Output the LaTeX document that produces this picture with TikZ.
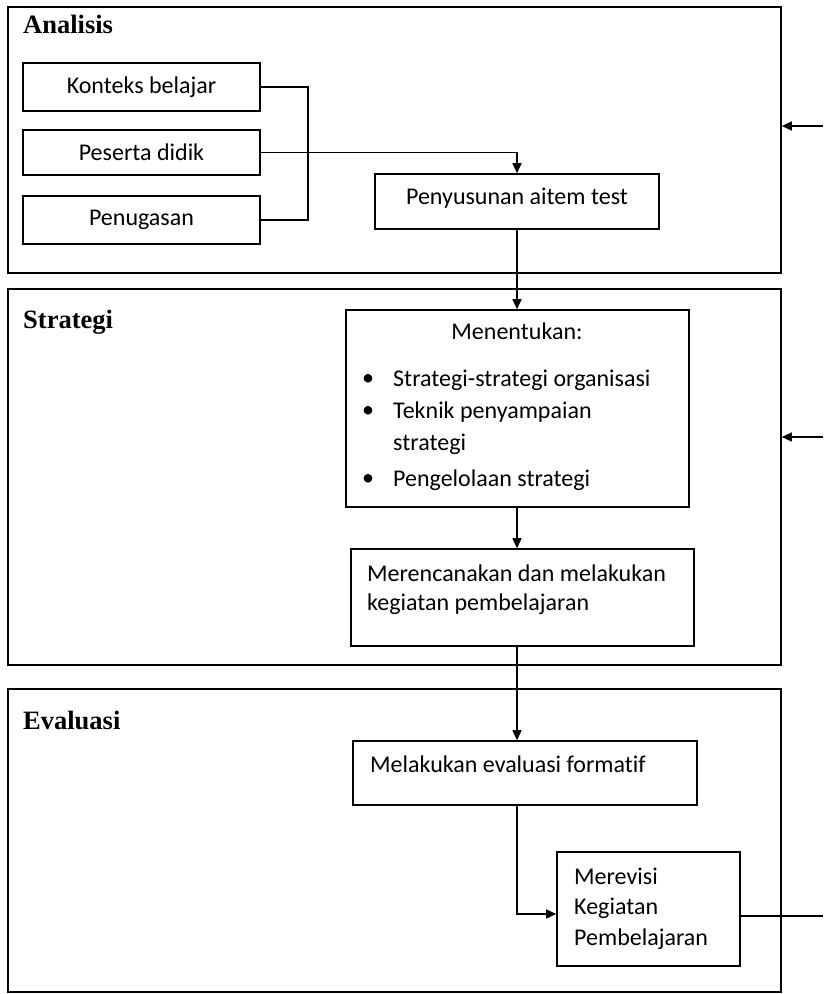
\documentclass[tikz,border=0pt]{standalone}
\usepackage{fontspec}
\setmainfont{Carlito}[Ligatures=CommonOff]
\newfontfamily\headfont{Liberation Serif}
\usetikzlibrary{arrows.meta}
\tikzset{
  every node/.style={font=\fontsize{24}{28}\selectfont},
  outerbox/.style={draw, line width=1.7pt, inner sep=0pt},
  box/.style={draw, line width=1.6pt, inner sep=0pt},
  head/.style={anchor=west, inner sep=0pt, font=\headfont\bfseries\fontsize{26.5}{30}\selectfont},
  txt/.style={anchor=west, inner sep=0pt},
  conn/.style={line width=1.5pt},
  arr/.style={line width=1.5pt, -{Triangle[length=10pt,width=9pt]}}
}
\begin{document}
\begin{tikzpicture}[x=1pt,y=-1pt]
\useasboundingbox (0,0) rectangle (823,994);
% outer frames
\node[outerbox, minimum width=773pt, minimum height=266pt] (analisis) at (394.5,140) {};
\node[outerbox, minimum width=773pt, minimum height=376pt] (strategi) at (394.5,477) {};
\node[outerbox, minimum width=773pt, minimum height=303pt] (evaluasi) at (394.5,840.5) {};
\node[head] (hA) at (23,24) {Analisis};
\node[head] (hS) at (23,322) {Strategi};
\node[head] (hE) at (23,720) {Evaluasi};
% Analisis boxes
\node[box, minimum width=237pt, minimum height=48pt] (konteks) at (141.5,87) {Konteks belajar};
\node[box, minimum width=237pt, minimum height=45pt] (peserta) at (141.5,152.5) {Peserta didik};
\node[box, minimum width=237pt, minimum height=48pt] (penugasan) at (141.5,220) {Penugasan};
\node[box, minimum width=284pt, minimum height=55pt] (penyusunan) at (517,201.5) {};
\node[inner sep=0pt] (ptext) at (517,198) {Penyusunan aitem test};
% Strategi boxes
\node[box, minimum width=343pt, minimum height=197pt] (menentukan) at (517.5,408.5) {};
\node[inner sep=0pt] (mtitle) at (517,331) {Menentukan:};
\node[txt] (b1) at (362,380) {\textbullet};
\node[txt] (t1) at (393,380) {Strategi-strategi organisasi};
\node[txt] (b2) at (362,412) {\textbullet};
\node[txt] (t2) at (393,412) {Teknik penyampaian};
\node[txt] (t2b) at (393,444) {strategi};
\node[txt] (b3) at (362,480) {\textbullet};
\node[txt] (t3) at (393,480) {Pengelolaan strategi};
\node[box, minimum width=343pt, minimum height=97pt] (merencanakan) at (522.5,597.5) {};
\node[txt] (r1) at (367,573) {Merencanakan dan melakukan};
\node[txt] (r2) at (367,604) {kegiatan pembelajaran};
% Evaluasi boxes
\node[box, minimum width=344pt, minimum height=64pt] (melakukan) at (525,773) {};
\node[txt] (m1) at (370,764) {Melakukan evaluasi formatif};
\node[box, minimum width=183pt, minimum height=114pt] (merevisi) at (648.5,909) {};
\node[txt] (v1) at (574,876) {Merevisi};
\node[txt] (v2) at (574,908) {Kegiatan};
\node[txt] (v3) at (574,939) {Pembelajaran};
% connectors
\draw[conn] (konteks.east) -- ++(47,0) |- (penugasan.east);
\draw[arr] (peserta.east) -| (penyusunan.north);
\draw[arr] (penyusunan.south) -- (menentukan.north -| penyusunan.south);
\draw[arr] (menentukan.south -| penyusunan.south) -- (merencanakan.north -| penyusunan.south);
\draw[arr] (merencanakan.south -| penyusunan.south) -- (melakukan.north -| penyusunan.south);
\draw[arr] (melakukan.south -| penyusunan.south) |- ([yshift=-5pt]merevisi.west);
% feedback
\coordinate (fb1) at (823,126);
\coordinate (fb2) at (823,437);
\coordinate (fb3) at (823,916);
\draw[conn] (merevisi.east |- fb3) -- (fb3);
\draw[arr] (fb1) -- (fb1 -| analisis.east);
\draw[arr] (fb2) -- (fb2 -| strategi.east);
\end{tikzpicture}
\end{document}
